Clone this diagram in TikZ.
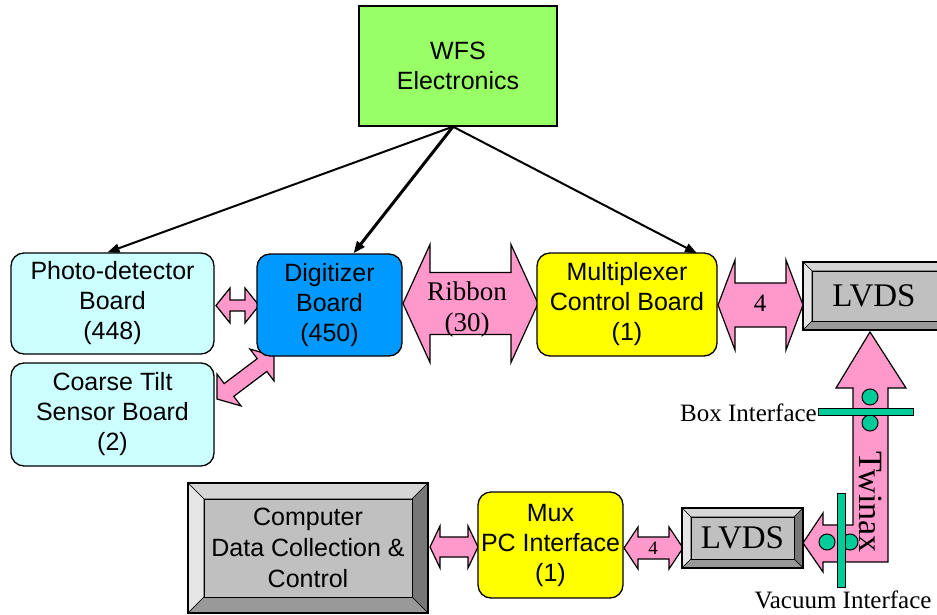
\documentclass[tikz,border=0pt]{standalone}
\usepackage{fontspec}
\setmainfont{Liberation Serif}
\setsansfont{Liberation Sans}
\usetikzlibrary{arrows.meta,calc}
\definecolor{wfsgreen}{HTML}{99FF66}
\definecolor{lcyan}{HTML}{CCFFFF}
\definecolor{dblue}{HTML}{0099FF}
\definecolor{myyellow}{HTML}{FFFF00}
\definecolor{mypink}{HTML}{FF99CC}
\definecolor{myteal}{HTML}{00CC99}
\definecolor{bvtop}{HTML}{D6D6D6}
\definecolor{bvleft}{HTML}{E6E6E6}
\definecolor{bvright}{HTML}{777777}
\definecolor{bvbottom}{HTML}{999999}
\definecolor{bvface}{HTML}{C0C0C0}
\newcommand\bevelbox[5]{%
  \filldraw[bvtop,draw=black,line width=0.6pt] (#1,#2) -- (#3,#2) -- (#3-#5,#2+#5) -- (#1+#5,#2+#5) -- cycle;
  \filldraw[bvleft,draw=black,line width=0.6pt] (#1,#2) -- (#1+#5,#2+#5) -- (#1+#5,#4-#5) -- (#1,#4) -- cycle;
  \filldraw[bvright,draw=black,line width=0.6pt] (#3,#2) -- (#3,#4) -- (#3-#5,#4-#5) -- (#3-#5,#2+#5) -- cycle;
  \filldraw[bvbottom,draw=black,line width=0.6pt] (#1,#4) -- (#3,#4) -- (#3-#5,#4-#5) -- (#1+#5,#4-#5) -- cycle;
  \filldraw[bvface,draw=black,line width=1pt] (#1+#5,#2+#5) rectangle (#3-#5,#4-#5);
  \draw[line width=1.6pt] (#1,#2) rectangle (#3,#4);
}
% double block arrow: from, to, shaft half width, head half width, head length
\newcommand\blockarrow[5]{%
  \path (#1) coordinate (ba) (#2) coordinate (bb);
  \path ($(ba)!#5!(bb)$) coordinate (ba1) ($(bb)!#5!(ba)$) coordinate (bb1);
  \filldraw[fill=mypink,draw=black,line width=1.2pt,line join=miter]
    (ba) -- ($(ba1)!#4!90:(bb)$) -- ($(ba1)!#3!90:(bb)$) -- ($(bb1)!#3!-90:(ba)$)
    -- ($(bb1)!#4!-90:(ba)$) -- (bb) -- ($(bb1)!#4!90:(ba)$) -- ($(bb1)!#3!90:(ba)$)
    -- ($(ba1)!#3!-90:(bb)$) -- ($(ba1)!#4!-90:(bb)$) -- cycle;
}
\tikzset{
  rbox/.style={draw=black,line width=1.3pt,rounded corners=13pt,align=center,
    font=\sffamily\fontsize{25}{30}\selectfont,inner sep=0pt},
  sqbox/.style={draw=black,line width=1.3pt,align=center,
    font=\sffamily\fontsize{25}{30}\selectfont,inner sep=0pt},
  plain/.style={align=center,inner sep=0pt},
  ptr/.style={line width=2pt,-{Triangle[length=12pt,width=9pt]}},
  teal/.style={fill=myteal,draw=black,line width=1pt},
}
\begin{document}
\begin{tikzpicture}[x=1pt,y=-1pt]
\useasboundingbox (0,0) rectangle (937,615);
\clip (0,0) rectangle (937,615);

% pink block arrows (behind the boxes)
\coordinate (cA) at (217,399); \coordinate (cB) at (274,356);
\blockarrow{cA}{cB}{8pt}{20pt}{15pt}
\coordinate (pA) at (216,305.5); \coordinate (pB) at (259,305.5);
\blockarrow{pA}{pB}{5.5pt}{17.5pt}{14pt}
\coordinate (rA) at (403,303.5); \coordinate (rB) at (538,303.5);
\blockarrow{rA}{rB}{31pt}{59pt}{27pt}
\coordinate (fA) at (718,305); \coordinate (fB) at (803,305);
\blockarrow{fA}{fB}{22pt}{45pt}{17pt}
\coordinate (mA) at (430,547); \coordinate (mB) at (478,547);
\blockarrow{mA}{mB}{10pt}{21pt}{10pt}
\coordinate (nA) at (624,548); \coordinate (nB) at (683,548);
\blockarrow{nA}{nB}{11pt}{21pt}{14pt}

% Twinax bent arrow
\filldraw[fill=mypink,draw=black,line width=1.2pt,line join=miter]
  (870,332) -- (906,388) -- (888,388) -- (888,562) -- (823,562) -- (823,572)
  -- (803,543) -- (823,513) -- (823,525) -- (853,525) -- (853,388) -- (836,388) -- cycle;
\node[plain,font=\fontsize{34}{36}\selectfont,rotate=-90] (twx) at (871,502) {Twinax};

% boxes
\node[sqbox,fill=wfsgreen,minimum width=198pt,minimum height=120pt] (wfs) at (458,66) {WFS\\Electronics};
\node[rbox,fill=lcyan,minimum width=203pt,minimum height=101pt] (pd) at (112.5,303.5) {Photo-detector\\Board\\(448)};
\node[rbox,fill=lcyan,minimum width=203pt,minimum height=103pt] (ct) at (112.5,414.5) {Coarse Tilt\\Sensor Board\\(2)};
\node[rbox,fill=dblue,minimum width=145pt,minimum height=102pt] (dg) at (329.5,305) {Digitizer\\Board\\(450)};
\node[rbox,fill=myyellow,minimum width=180pt,minimum height=103pt] (mx) at (627,304.5) {Multiplexer\\Control Board\\(1)};
\node[rbox,fill=myyellow,minimum width=145pt,minimum height=106pt] (mpc) at (550.5,545) {Mux\\PC Interface\\(1)};

% bevelled boxes
\bevelbox{803}{262}{950}{330}{9}
\node[plain,font=\fontsize{33}{36}\selectfont,minimum width=134pt,minimum height=68pt] (lv1) at (874,296) {LVDS};
\bevelbox{682}{508}{803}{568}{9}
\node[plain,font=\fontsize{33}{36}\selectfont,minimum width=121pt,minimum height=60pt] (lv2) at (742.5,538) {LVDS};
\bevelbox{188}{483}{428}{613}{16}
\node[plain,font=\sffamily\fontsize{25}{31}\selectfont,minimum width=240pt,minimum height=130pt] (pc) at (308,548) {Computer\\Data Collection \&\\Control};

% arrow labels
\node[plain,font=\fontsize{27}{30}\selectfont] (rl1) at (467,291) {Ribbon};
\node[plain,font=\fontsize{27}{30}\selectfont] (rl2) at (467,325) {(30)};
\node[plain,font=\fontsize{25}{30}\selectfont] (f4) at (760,303) {4};
\node[plain,font=\fontsize{19}{22}\selectfont] (n4) at (653,548) {4};

% WFS pointers
\coordinate (wo) at ($(wfs.south)+(-5,0)$);
\draw[ptr] (wo) -- ($(pd.north)+(-5,0)$);
\draw[ptr,line width=3pt] (wo) -- ($(dg.north)+(24,0)$);
\draw[ptr] (wo) -- ($(mx.north)+(70,1)$);

% interfaces
\filldraw[teal] (870,397) circle (8);
\filldraw[teal] (870,423) circle (8);
\filldraw[teal] (818,408) rectangle (913,415);
\node[plain,anchor=east,font=\fontsize{25}{28}\selectfont] (bi) at (817,413) {Box Interface};
\filldraw[teal] (827,542) circle (8);
\filldraw[teal] (850,542) circle (8);
\filldraw[teal] (837,493) rectangle (845,587);
\node[plain,font=\fontsize{25}{28}\selectfont] (vi) at (843,600) {Vacuum Interface};
\end{tikzpicture}
\end{document}
